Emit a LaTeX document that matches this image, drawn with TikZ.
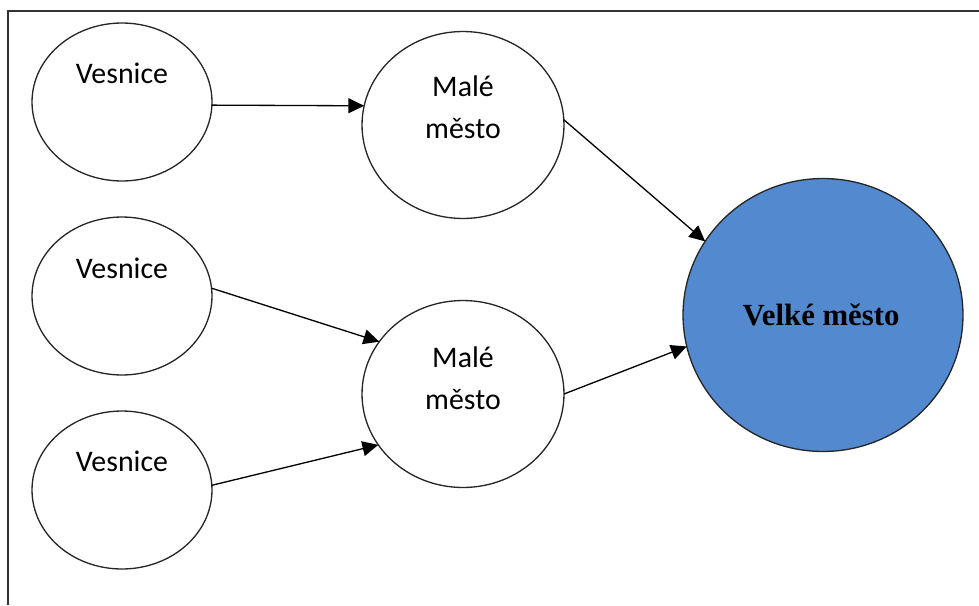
\documentclass[tikz,border=0pt]{standalone}
\usepackage{fontspec}
\newfontfamily\calibri{Carlito}
\newfontfamily\timesfont{Liberation Serif}
\usetikzlibrary{arrows.meta,shapes.geometric}
\definecolor{bigblue}{RGB}{82,137,207}
\tikzset{
  place/.style={ellipse,draw=black!85,line width=0.75pt,inner sep=0pt,outer sep=0pt},
  village/.style={place,minimum width=3.6cm,minimum height=3.16cm},
  town/.style={place,minimum width=4.04cm,minimum height=3.74cm},
  city/.style={place,fill=bigblue,minimum width=5.6cm,minimum height=5.46cm},
  lbl/.style={font=\calibri\fontsize{17}{24}\selectfont,align=center,inner sep=0pt},
  flow/.style={line width=0.75pt,-{Triangle[length=9pt,width=8.5pt]}}
}
\begin{document}
\begin{tikzpicture}[x=0.02cm,y=-0.02cm]
\useasboundingbox (0,0) rectangle (979,605);
\draw[line width=0.8pt,black!80] (8,605) -- (8,11) -- (979,11);

\node[village] (v1) at (122,102) {};
\node[village] (v2) at (122,296) {};
\node[village] (v3) at (122,490) {};
\node[town] (m1) at (463,125) {};
\node[town] (m2) at (463,394) {};
\node[city] (big) at (823,315) {};

\node[lbl] (v1t) at (122,73) {Vesnice};
\node[lbl] (v2t) at (122,268) {Vesnice};
\node[lbl] (v3t) at (122,461) {Vesnice};
\node[lbl] (m1t) at (463,107) {Malé\\město};
\node[lbl] (m2t) at (463,378) {Malé\\město};
\node[font=\timesfont\bfseries\fontsize{17.5}{20}\selectfont] (bigt) at (821,315) {Velké město};

\draw[flow] (v1.-2) -- (m1.169);
\draw[flow] (v2.5) -- (m2.148);
\draw[flow] (v3.3) -- (m2.211);
\draw[flow] (m1.3) -- (big.148);
\draw[flow] (m2.east) -- (big.193);

\end{tikzpicture}
\end{document}
